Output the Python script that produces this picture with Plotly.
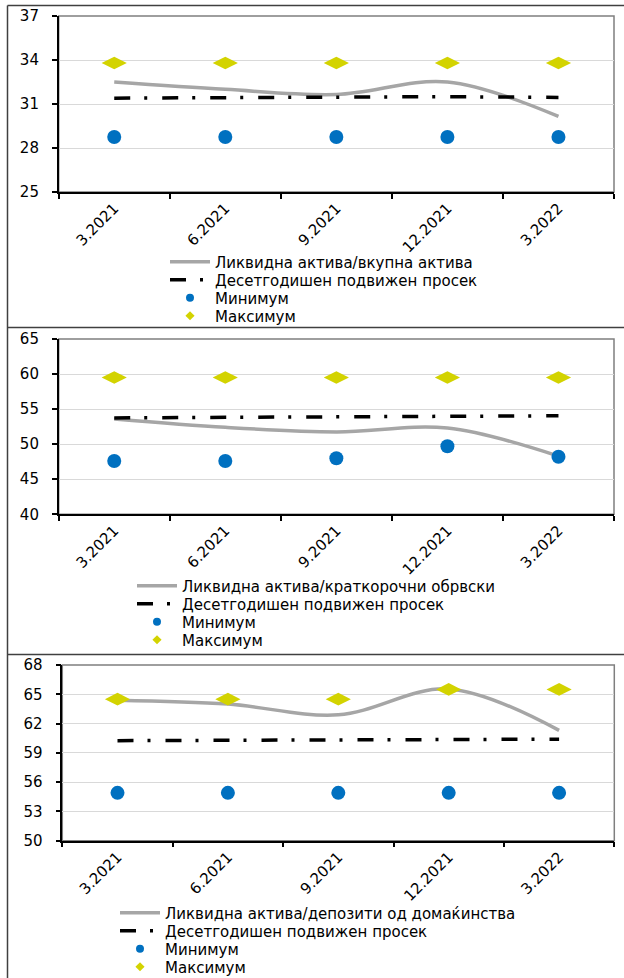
import plotly.graph_objects as go

# ---------------- data ----------------
categories = ["3.2021", "6.2021", "9.2021", "12.2021", "3.2022"]

p1_name = "Ликвидна актива/вкупна актива"
p1_liquid = [32.5, 32.0, 31.65, 32.5, 30.15]
p1_avg = [31.4, 31.45, 31.45, 31.5, 31.45]
p1_min = [28.75, 28.75, 28.75, 28.75, 28.75]
p1_max = [33.8, 33.8, 33.8, 33.8, 33.8]
p1_ticks = [25, 28, 31, 34, 37]

p2_name = "Ликвидна актива/краткорочни обрвски"
p2_liquid = [53.6, 52.4, 51.75, 52.3, 48.3]
p2_avg = [53.75, 53.85, 53.95, 54.05, 54.05]
p2_min = [47.6, 47.6, 48.0, 49.7, 48.2]
p2_max = [59.5, 59.5, 59.5, 59.5, 59.5]
p2_ticks = [40, 45, 50, 55, 60, 65]

p3_name = "Ликвидна актива/депозити од домаќинства"
p3_liquid = [64.4, 64.0, 62.9, 65.55, 61.3]
p3_avg = [60.25, 60.3, 60.3, 60.35, 60.4]
p3_min = [54.9, 54.9, 54.9, 54.9, 54.9]
p3_max = [64.5, 64.5, 64.5, 65.5, 65.5]
p3_ticks = [50, 53, 56, 59, 62, 65, 68]

avg_name = "Десетгодишен подвижен просек"
min_name = "Минимум"
max_name = "Максимум"

# ---------------- layout helpers ----------------
W, H = 624, 978
FONT = "DejaVu Sans"
GRAY = "#A6A6A6"
BLUE = "#0070C0"
YELLOW = "#D3D300"


def px(x):
    return x / W


def py(y):
    return 1 - y / H


panels = [
    dict(name=p1_name, liq=p1_liquid, avg=p1_avg, mn=p1_min, mx=p1_max, ticks=p1_ticks,
         x0=58.7, x1=614, y0=16, y1=192, leg_x=170, leg_y=[262, 280, 298, 316]),
    dict(name=p2_name, liq=p2_liquid, avg=p2_avg, mn=p2_min, mx=p2_max, ticks=p2_ticks,
         x0=58.7, x1=614, y0=339, y1=514.3, leg_x=137, leg_y=[586, 604, 622, 640]),
    dict(name=p3_name, liq=p3_liquid, avg=p3_avg, mn=p3_min, mx=p3_max, ticks=p3_ticks,
         x0=62.3, x1=614.3, y0=665, y1=840.7, leg_x=120, leg_y=[913, 931, 949, 967]),
]

fig = go.Figure()
layout = dict(
    width=W, height=H,
    margin=dict(l=0, r=0, t=0, b=0, autoexpand=False),
    paper_bgcolor="white", plot_bgcolor="white",
    font=dict(family=FONT, size=15, color="black"),
    shapes=[],
)

for i, p in enumerate(panels):
    n = "" if i == 0 else str(i + 1)
    xa, ya = "x" + n, "y" + n
    names = []
    for k in range(4):
        idx = i * 4 + k + 1
        names.append("legend" if idx == 1 else f"legend{idx}")
    l1, l2, l3, l4 = names

    fig.add_trace(go.Scatter(x=categories, y=p["liq"], mode="lines", name=p["name"],
                             line=dict(color=GRAY, width=3.5, shape="spline", smoothing=1.0),
                             xaxis=xa, yaxis=ya, legend=l1, showlegend=True))
    fig.add_trace(go.Scatter(x=categories, y=p["avg"], mode="lines", name=avg_name,
                             line=dict(color="black", width=3.5, dash="16px,14px,3px,15px"),
                             xaxis=xa, yaxis=ya, legend=l2, showlegend=True))
    fig.add_trace(go.Scatter(x=categories, y=p["mn"], mode="markers", name=min_name,
                             marker=dict(color=BLUE, size=14, symbol="circle"),
                             xaxis=xa, yaxis=ya, showlegend=False))
    fig.add_trace(go.Scatter(x=categories, y=p["mx"], mode="markers", name=max_name,
                             marker=dict(color=YELLOW, size=18, symbol="diamond-wide"),
                             xaxis=xa, yaxis=ya, showlegend=False))
    # legend-only marker entries (smaller symbols as in the reference legend)
    fig.add_trace(go.Scatter(x=[categories[0]], y=[None], mode="markers", name=min_name,
                             marker=dict(color=BLUE, size=8, symbol="circle"),
                             xaxis=xa, yaxis=ya, legend=l3, showlegend=True, hoverinfo="skip"))
    fig.add_trace(go.Scatter(x=[categories[0]], y=[None], mode="markers", name=max_name,
                             marker=dict(color=YELLOW, size=7, symbol="diamond"),
                             xaxis=xa, yaxis=ya, legend=l4, showlegend=True, hoverinfo="skip"))

    for lname, ly in zip(names, p["leg_y"]):
        layout[lname] = dict(
            x=px(p["leg_x"] - 5), y=py(ly), xanchor="left", yanchor="middle",
            bgcolor="rgba(0,0,0,0)", borderwidth=0,
            font=dict(family=FONT, size=15, color="black"),
            itemwidth=40, tracegroupgap=0,
        )

    layout["xaxis" + n] = dict(
        domain=[px(p["x0"]), px(p["x1"])], anchor=ya,
        type="category", categoryorder="array", categoryarray=categories,
        range=[-0.5, len(categories) - 0.5],
        showgrid=False, zeroline=False,
        showline=True, linecolor="black", linewidth=1.5,
        ticks="outside", ticklen=5, tickcolor="black", tickwidth=1.5,
        tickson="boundaries", tickangle=-45,
        tickfont=dict(family=FONT, size=15, color="black"),
    )
    layout["yaxis" + n] = dict(
        domain=[py(p["y1"]), py(p["y0"])], anchor=xa,
        range=[p["ticks"][0], p["ticks"][-1]],
        tickmode="array", tickvals=p["ticks"],
        showgrid=True, gridcolor="#D9D9D9", gridwidth=1, zeroline=False,
        showline=True, linecolor="black", linewidth=1.5,
        ticks="outside", ticklen=5, tickcolor="black", tickwidth=1.5,
        ticklabelstandoff=10,
        tickfont=dict(family=FONT, size=15, color="black"),
    )
    # plot-area frame (gray)
    layout["shapes"].append(dict(type="rect", xref="paper", yref="paper",
                                 x0=px(p["x0"]), x1=px(p["x1"]), y0=py(p["y1"]), y1=py(p["y0"]),
                                 layer="below", line=dict(color="#7F7F7F", width=1.5)))

# outer panel borders
BC = "#404040"
layout["shapes"] += [
    dict(type="line", xref="paper", yref="paper", x0=px(7.5), x1=px(7.5), y0=py(5.5), y1=0,
         line=dict(color=BC, width=1.5)),
    dict(type="line", xref="paper", yref="paper", x0=px(7.5), x1=1, y0=py(5.5), y1=py(5.5),
         line=dict(color=BC, width=1.5)),
    dict(type="line", xref="paper", yref="paper", x0=px(7.5), x1=1, y0=py(327.5), y1=py(327.5),
         line=dict(color=BC, width=1.5)),
    dict(type="line", xref="paper", yref="paper", x0=px(7.5), x1=1, y0=py(654.5), y1=py(654.5),
         line=dict(color=BC, width=1.5)),
]

fig.update_layout(**layout)
fig.write_html(
    "out.html",
    config={"displayModeBar": False},
    post_script="document.body.style.margin='0px';document.body.style.padding='0px';",
)
